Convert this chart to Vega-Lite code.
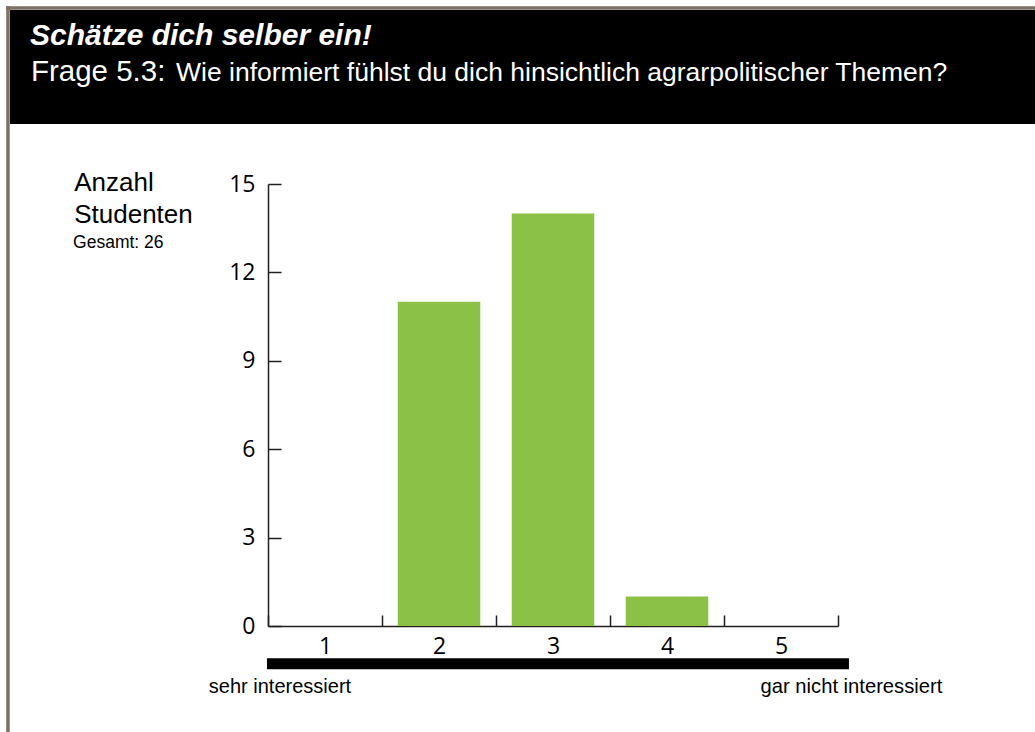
{
  "$schema": "https://vega.github.io/schema/vega-lite/v6.json",
  "width": 570,
  "height": 442,
  "autosize": {"type": "none"},
  "padding": {"left": 268, "top": 184, "right": 197, "bottom": 106},
  "background": "white",
  "config": {"view": {"stroke": null}, "font": "Liberation Sans"},
  "resolve": {"scale": {"x": "independent", "y": "independent"}},
  "layer": [
    {
      "data": {"values": [{}]},
      "layer": [
        {
          "mark": {"type": "rect", "fill": "black"},
          "encoding": {
            "x": {"datum": -1.763, "type": "quantitative", "scale": {"domain": [0.5, 5.5], "nice": false, "zero": false}, "axis": null},
            "x2": {"datum": 8},
            "y": {"datum": 20.905, "type": "quantitative", "scale": {"domain": [0, 15], "nice": false, "zero": false}, "axis": null},
            "y2": {"datum": 17.036}
          }
        },
        {
          "mark": {"type": "rule", "color": "#7a7164", "strokeWidth": 3.5},
          "encoding": {
            "x": {"datum": -1.781, "type": "quantitative", "scale": {"domain": [0.5, 5.5], "nice": false, "zero": false}, "axis": null},
            "y": {"datum": 21.03, "type": "quantitative", "scale": {"domain": [0, 15], "nice": false, "zero": false}, "axis": null},
            "y2": {"datum": -5}
          }
        },
        {
          "mark": {"type": "rule", "color": "#7a7164", "strokeWidth": 3.5},
          "encoding": {
            "x": {"datum": -1.797, "type": "quantitative", "scale": {"domain": [0.5, 5.5], "nice": false, "zero": false}, "axis": null},
            "x2": {"datum": 8},
            "y": {"datum": 20.973, "type": "quantitative", "scale": {"domain": [0, 15], "nice": false, "zero": false}, "axis": null}
          }
        },
        {
          "mark": {"type": "rect", "fill": "black"},
          "encoding": {
            "x": {"datum": 0.491, "type": "quantitative", "scale": {"domain": [0.5, 5.5], "nice": false, "zero": false}, "axis": null},
            "x2": {"datum": 5.596},
            "y": {"datum": -1.096, "type": "quantitative", "scale": {"domain": [0, 15], "nice": false, "zero": false}, "axis": null},
            "y2": {"datum": -1.469}
          }
        },
        {
          "mark": {"type": "text", "text": "Schätze dich selber ein!", "fontSize": 30, "fontWeight": "bold", "fontStyle": "italic", "color": "white", "align": "left", "baseline": "alphabetic"},
          "encoding": {
            "x": {"datum": -1.588, "type": "quantitative", "scale": {"domain": [0.5, 5.5], "nice": false, "zero": false}, "axis": null},
            "y": {"datum": 19.717, "type": "quantitative", "scale": {"domain": [0, 15], "nice": false, "zero": false}, "axis": null}
          }
        },
        {
          "mark": {"type": "text", "text": "Frage 5.3:", "fontSize": 29.5, "color": "white", "align": "left", "baseline": "alphabetic"},
          "encoding": {
            "x": {"datum": -1.58, "type": "quantitative", "scale": {"domain": [0.5, 5.5], "nice": false, "zero": false}, "axis": null},
            "y": {"datum": 18.5, "type": "quantitative", "scale": {"domain": [0, 15], "nice": false, "zero": false}, "axis": null}
          }
        },
        {
          "mark": {"type": "text", "text": "Wie informiert fühlst du dich hinsichtlich agrarpolitischer Themen?", "fontSize": 26.5, "color": "white", "align": "left", "baseline": "alphabetic"},
          "encoding": {
            "x": {"datum": -0.307, "type": "quantitative", "scale": {"domain": [0.5, 5.5], "nice": false, "zero": false}, "axis": null},
            "y": {"datum": 18.5, "type": "quantitative", "scale": {"domain": [0, 15], "nice": false, "zero": false}, "axis": null}
          }
        },
        {
          "mark": {"type": "text", "text": "Anzahl", "fontSize": 26, "color": "black", "align": "left", "baseline": "alphabetic"},
          "encoding": {
            "x": {"datum": -1.2, "type": "quantitative", "scale": {"domain": [0.5, 5.5], "nice": false, "zero": false}, "axis": null},
            "y": {"datum": 14.762, "type": "quantitative", "scale": {"domain": [0, 15], "nice": false, "zero": false}, "axis": null}
          }
        },
        {
          "mark": {"type": "text", "text": "Studenten", "fontSize": 26, "color": "black", "align": "left", "baseline": "alphabetic"},
          "encoding": {
            "x": {"datum": -1.2, "type": "quantitative", "scale": {"domain": [0.5, 5.5], "nice": false, "zero": false}, "axis": null},
            "y": {"datum": 13.666, "type": "quantitative", "scale": {"domain": [0, 15], "nice": false, "zero": false}, "axis": null}
          }
        },
        {
          "mark": {"type": "text", "text": "Gesamt: 26", "fontSize": 17.5, "color": "black", "align": "left", "baseline": "alphabetic"},
          "encoding": {
            "x": {"datum": -1.21, "type": "quantitative", "scale": {"domain": [0.5, 5.5], "nice": false, "zero": false}, "axis": null},
            "y": {"datum": 12.818, "type": "quantitative", "scale": {"domain": [0, 15], "nice": false, "zero": false}, "axis": null}
          }
        },
        {
          "mark": {"type": "text", "text": "sehr interessiert", "fontSize": 20, "color": "black", "align": "center", "baseline": "alphabetic"},
          "encoding": {
            "x": {"datum": 0.605, "type": "quantitative", "scale": {"domain": [0.5, 5.5], "nice": false, "zero": false}, "axis": null},
            "y": {"datum": -2.257, "type": "quantitative", "scale": {"domain": [0, 15], "nice": false, "zero": false}, "axis": null}
          }
        },
        {
          "mark": {"type": "text", "text": "gar nicht interessiert", "fontSize": 20.2, "color": "black", "align": "center", "baseline": "alphabetic"},
          "encoding": {
            "x": {"datum": 5.618, "type": "quantitative", "scale": {"domain": [0.5, 5.5], "nice": false, "zero": false}, "axis": null},
            "y": {"datum": -2.274, "type": "quantitative", "scale": {"domain": [0, 15], "nice": false, "zero": false}, "axis": null}
          }
        }
      ]
    },
    {
      "data": {
        "values": [
          {"Stufe": "1", "Anzahl": 0},
          {"Stufe": "2", "Anzahl": 11},
          {"Stufe": "3", "Anzahl": 14},
          {"Stufe": "4", "Anzahl": 1},
          {"Stufe": "5", "Anzahl": 0}
        ]
      },
      "mark": {"type": "bar", "color": "#8bc147", "width": {"band": 0.724}},
      "encoding": {
        "x": {
          "field": "Stufe",
          "type": "ordinal",
          "scale": {"paddingInner": 0, "paddingOuter": 0},
          "axis": {
            "orient": "bottom",
            "title": null,
            "labelAngle": 0,
            "tickBand": "extent",
            "tickSize": -11,
            "labelPadding": 20,
            "labelFont": "Open Sans",
            "labelFontSize": 23,
            "labelColor": "black",
            "domainColor": "#231f20",
            "tickColor": "#231f20",
            "domainWidth": 1.5,
            "tickWidth": 1.5,
            "grid": false
          }
        },
        "y": {
          "field": "Anzahl",
          "type": "quantitative",
          "scale": {"domain": [0, 15], "nice": false},
          "axis": {
            "orient": "left",
            "title": null,
            "values": [0, 3, 6, 9, 12, 15],
            "tickSize": -13,
            "labelPadding": 26,
            "labelFont": "Open Sans",
            "labelFontSize": 23,
            "labelColor": "black",
            "domainColor": "#231f20",
            "tickColor": "#231f20",
            "domainWidth": 1.5,
            "tickWidth": 1.5,
            "grid": false
          }
        }
      }
    }
  ]
}
